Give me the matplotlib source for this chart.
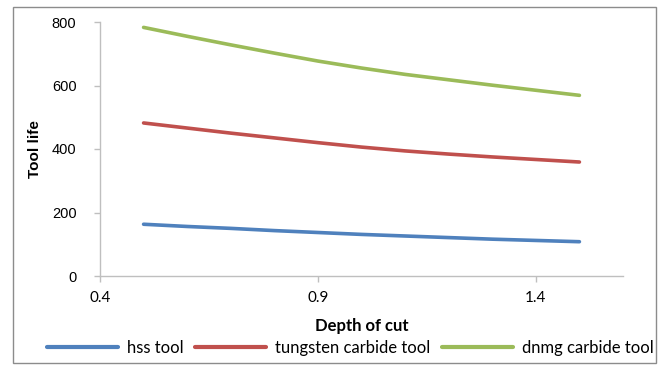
import matplotlib
matplotlib.use("Agg")
import matplotlib.pyplot as plt
from matplotlib.patches import Rectangle

# Depth of cut (mm) and measured tool life for each tool type
depth_of_cut = [0.5, 0.6, 0.7, 0.8, 0.9, 1.0, 1.1, 1.2, 1.3, 1.4, 1.5]
hss_tool = [163, 156, 150, 143, 137, 131, 126, 121, 116, 112, 108]
tungsten_carbide_tool = [482, 466, 450, 435, 420, 406, 394, 384, 375, 367, 359]
dnmg_carbide_tool = [783, 755, 728, 702, 677, 655, 635, 618, 601, 585, 569]

series_names = ["hss tool", "tungsten carbide tool", "dnmg carbide tool"]
series_values = [hss_tool, tungsten_carbide_tool, dnmg_carbide_tool]
series_colors = ["#4f81bd", "#c0504d", "#9bbb59"]

x_ticks = [0.4, 0.9, 1.4]
y_ticks = [0, 200, 400, 600, 800]

W, H = 661, 365
fig = plt.figure(figsize=(W / 100, H / 100), dpi=100)
fig.patch.set_facecolor("white")

ax = fig.add_axes([100 / W, (H - 276) / H, 523 / W, 254 / H])

for name, vals, col in zip(series_names, series_values, series_colors):
    ax.plot(depth_of_cut, vals, color=col, lw=2.6, label=name,
            solid_capstyle="round", solid_joinstyle="round")

ax.set_xlim(0.4, 1.6)
ax.set_ylim(0, 800)
ax.set_xticks(x_ticks)
ax.set_xticklabels([f"{t:.1f}" for t in x_ticks], fontfamily="Lato", fontsize=11)
ax.set_yticks(y_ticks)
ax.set_yticklabels([str(t) for t in y_ticks], fontfamily="Liberation Sans", fontsize=10.5)

for side in ("top", "right"):
    ax.spines[side].set_visible(False)
for side in ("left", "bottom"):
    ax.spines[side].set_color("#bfbfbf")
    ax.spines[side].set_linewidth(1.0)
ax.tick_params(axis="both", direction="out", length=4, width=1.0,
               color="#bfbfbf", labelcolor="black")
ax.tick_params(axis="y", pad=13)
ax.tick_params(axis="x", pad=7)

ax.set_xlabel("Depth of cut", fontfamily="Lato", fontweight="bold", fontsize=12,
              labelpad=9)
ax.set_ylabel("Tool life", fontfamily="Liberation Sans", fontweight="bold",
              fontsize=11, labelpad=7)

leg = fig.legend(loc="center", bbox_to_anchor=(350 / W, 1 - 348 / H), ncol=3,
                 frameon=False, prop={"family": "Lato", "size": 12},
                 handlelength=4.3, handletextpad=0.5, columnspacing=0.7)
for line in leg.get_lines():
    line.set_linewidth(3)

# outer chart border
fig.patches.append(Rectangle((13 / W, 2 / H), 643 / W, (H - 9) / H,
                             transform=fig.transFigure, fill=False,
                             edgecolor="#8c8c8c", linewidth=1.0))

fig.savefig("out.png", dpi=100, facecolor="white")
